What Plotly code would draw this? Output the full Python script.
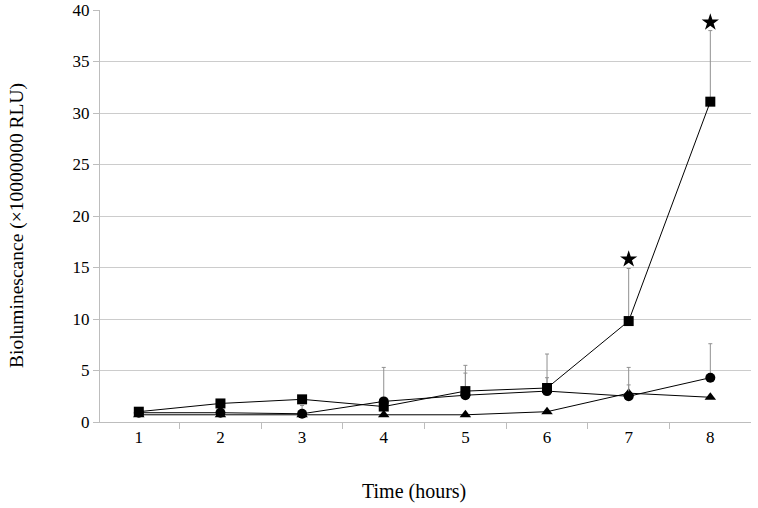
import plotly.graph_objects as go

hours = ["1", "2", "3", "4", "5", "6", "7", "8"]
square_vals = [1.0, 1.8, 2.2, 1.5, 3.0, 3.3, 9.8, 31.1]
square_err = [0.4, 0.0, 0.0, 0.0, 2.5, 3.3, 5.1, 6.9]
circle_vals = [0.9, 0.9, 0.8, 2.0, 2.6, 3.0, 2.5, 4.3]
circle_err = [0.0, 0.0, 0.8, 3.3, 2.15, 1.3, 2.8, 3.3]
triangle_vals = [0.7, 0.7, 0.7, 0.7, 0.7, 1.0, 2.8, 2.4]
triangle_err = [0.0, 0.0, 0.0, 0.0, 0.0, 0.0, 0.8, 0.0]
star_hours = ["7", "8"]
star_vals = [15.8, 38.8]
x_title = "Time (hours)"
y_title = "Bioluminescance (×10000000 RLU)"

fig = go.Figure()

def add_series(vals, errs, symbol, size):
    fig.add_trace(go.Scatter(
        x=hours, y=vals, mode="lines+markers",
        line=dict(color="black", width=1),
        marker=dict(symbol=symbol, color="black", size=size),
        error_y=dict(type="data", array=errs, symmetric=False, arrayminus=[0]*len(errs),
                     color="#909090", thickness=1, width=2),
        showlegend=False,
    ))

add_series(triangle_vals, triangle_err, "triangle-up", 10)
add_series(circle_vals, circle_err, "circle", 10)
add_series(square_vals, square_err, "square", 10)

fig.add_trace(go.Scatter(
    x=star_hours, y=star_vals, mode="markers",
    marker=dict(symbol="star", color="black", size=13),
    showlegend=False,
))

font_family = "Liberation Serif, Times New Roman, Times, serif"
W, H = 758, 508
L, R, T, B = 100, 7, 10, 86
pw, ph = W - L - R, H - T - B

fig.update_layout(
    width=W, height=H,
    margin=dict(l=L, r=R, t=T, b=B, autoexpand=False),
    paper_bgcolor="white", plot_bgcolor="white",
    font=dict(family=font_family, color="black", size=17),
    xaxis=dict(
        type="category", categoryorder="array", categoryarray=hours,
        tickson="boundaries", ticks="outside", ticklen=6, tickcolor="#bdbdbd",
        showline=True, linecolor="#bdbdbd", showgrid=False,
        tickfont=dict(size=17, family=font_family), automargin=False,
    ),
    yaxis=dict(
        range=[0, 40], dtick=5, ticks="outside", ticklen=6, tickcolor="#bdbdbd",
        showline=True, linecolor="#bdbdbd", showgrid=True, gridcolor="#cccccc",
        zeroline=False, automargin=False,
        tickfont=dict(size=17, family=font_family),
    ),
    annotations=[
        dict(text=x_title, xref="paper", yref="paper", showarrow=False,
             x=(413.5 - L) / pw, y=(H - B - 492) / ph, xanchor="center", yanchor="middle",
             font=dict(size=20, family=font_family, color="black")),
        dict(text=y_title, xref="paper", yref="paper", showarrow=False, textangle=-90,
             x=(17 - L) / pw, y=(H - B - 226) / ph, xanchor="center", yanchor="middle",
             font=dict(size=19.5, family=font_family, color="black")),
    ],
)

fig.write_html("out.html", config={"displayModeBar": False},
               post_script="document.body.style.margin='0px';")
